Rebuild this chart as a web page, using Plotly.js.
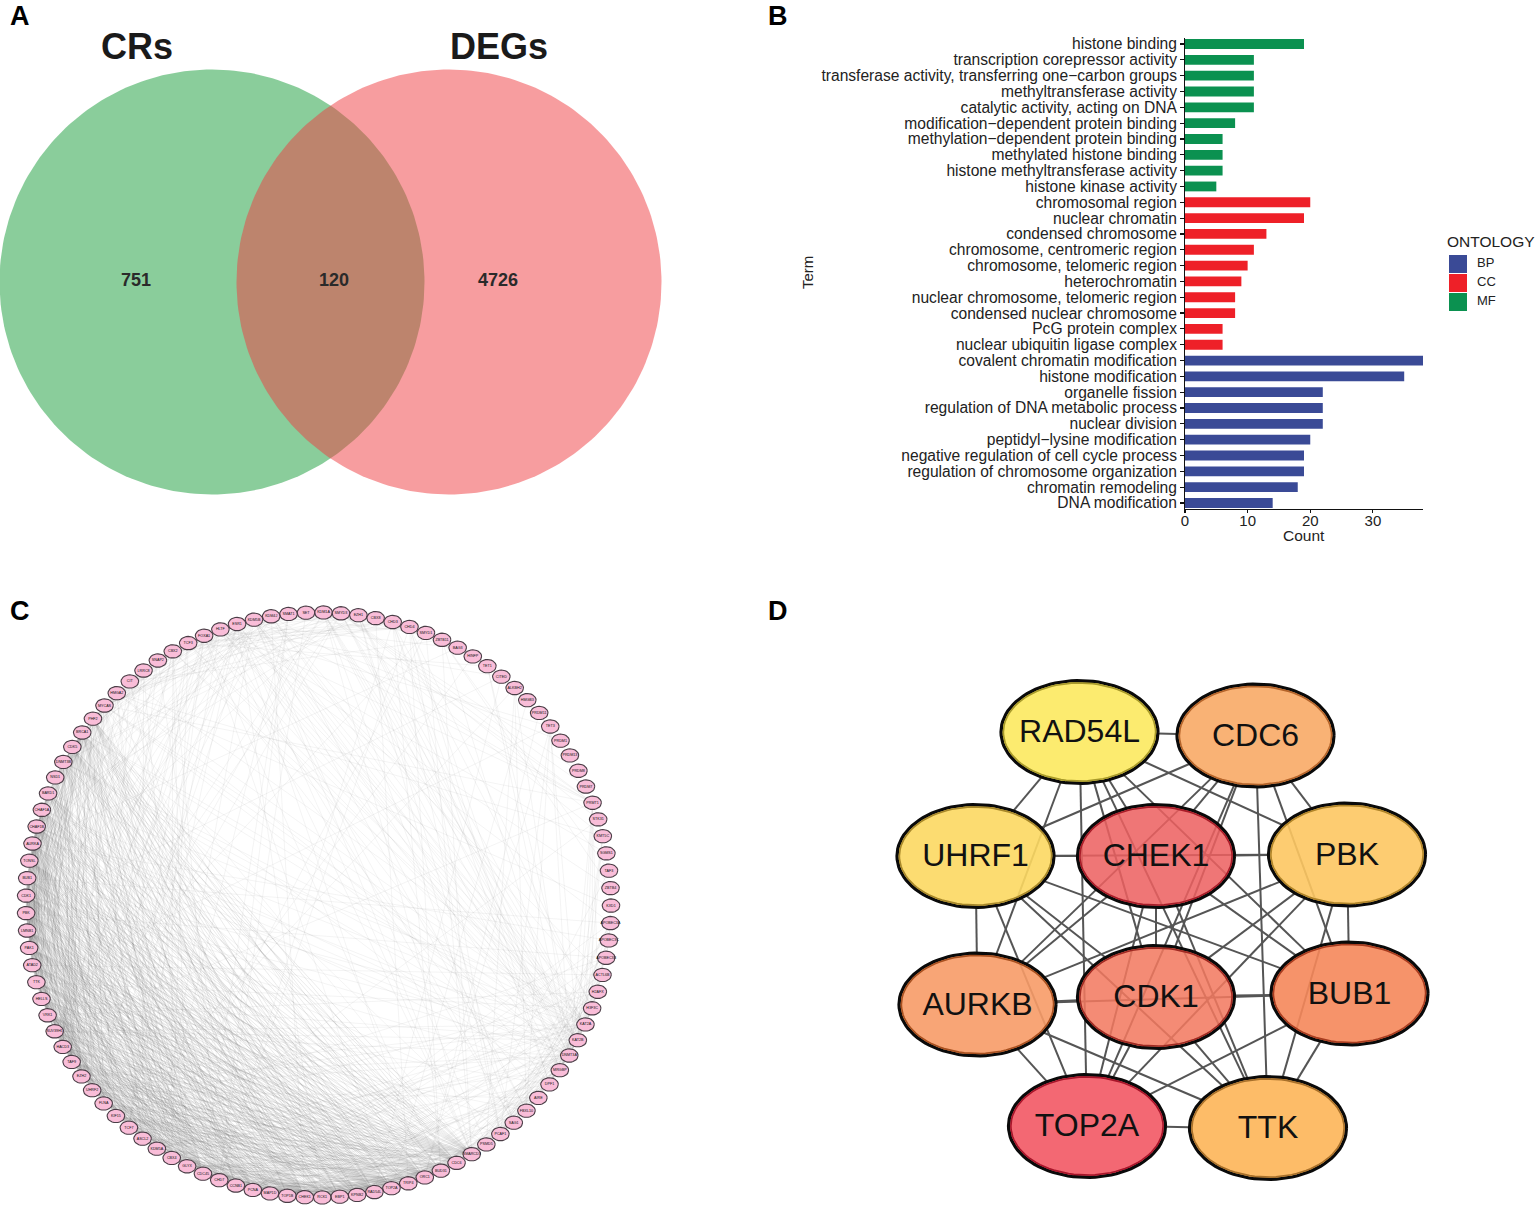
<!DOCTYPE html>
<html><head><meta charset="utf-8">
<script src="https://cdn.plot.ly/plotly-3.0.1.min.js"></script>
<style>html,body{margin:0;padding:0;background:#fff}#c{width:1535px;height:1210px}</style>
</head><body><div id="c"></div>
<script>
// ---------- Panel A: Venn ----------
const vennNames=['CRs','DEGs'];
const vennOnly=[751,4726];
const vennShared=120;

// ---------- Panel B: GO terms ----------
const mfTerms=['histone binding','transcription corepressor activity','transferase activity, transferring one−carbon groups','methyltransferase activity','catalytic activity, acting on DNA','modification−dependent protein binding','methylation−dependent protein binding','methylated histone binding','histone methyltransferase activity','histone kinase activity'];
const mfCounts=[19,11,11,11,11,8,6,6,6,5];
const ccTerms=['chromosomal region','nuclear chromatin','condensed chromosome','chromosome, centromeric region','chromosome, telomeric region','heterochromatin','nuclear chromosome, telomeric region','condensed nuclear chromosome','PcG protein complex','nuclear ubiquitin ligase complex'];
const ccCounts=[20,19,13,11,10,9,8,8,6,6];
const bpTerms=['covalent chromatin modification','histone modification','organelle fission','regulation of DNA metabolic process','nuclear division','peptidyl−lysine modification','negative regulation of cell cycle process','regulation of chromosome organization','chromatin remodeling','DNA modification'];
const bpCounts=[38,35,22,22,22,20,19,19,18,14];
const ontologyNames=['BP','CC','MF'];
const ontologyColors=['#3a4a96','#ee2028','#0b9150'];

// ---------- Panel C: PPI network (clockwise from the top) ----------
const ppiGenes=['SET','KDM1A','SMYD3','EZH1','CBX8','CHD3','CHD4','SMYD1','ZBTB11','BAG3','HINFP','TET1','CITED','ALKBH2','HMGB3','PRDM11','TET3','PRDM1','PRDM13','PRDM8','PRDM7','PRMT1','STK31','KMT5C','SGMS1','TAF3','ZBTB4','KXD1','APOBEC3A','APOBEC3C','APOBEC3B','ACTL6B','H2AFX','H3F3C','KAT2A','KAT2B','DNMT3A','MRGBP','DPF1','AIRE','FBXL10','SAG1','PCAF1','PSMD5','SMARCD3','CDC6','BUD31','ORC1','TRIP4','TOP2A','RAD54L','KPNB2','EBP1','RCK1','CHEK1','TOP1B','MAP1D','PCNA','CCNB1','CHD7','CDC45','GLYX','CBX4','KDM5A','ASCL2','TCF7','KIF15','FLNA','UHRF2','EZH2','TAF9','HACD3','SUV39H1','VRK1','HELLS','TTK','ATAD2','PAK1','LMNB1','PBK','CDK1','BUB1','TONSL','AURKA','CHAF1B','CHAF1A','BARD1','NSD1','DNMT3B','CDK5','BRCA1','PHF2','MYCAS','HMGA2','CIT','LRRC8','SNAP2','CBX2','TCF3','FOXA1','HLTF','ESR1','KDM5B','KDM4J','SMAT1'];
// adjacency by gene index, hub: partners
const ppiEdges=[
[80,[54,49,50,45,47,57,59,60,63,65,68,69,72,74,75,76,79,81,83,84,85,86,88,90,73,44,46,48,52,53,55,58,62,66,71,36,35,102,93,2,100]],
[81,[54,49,50,45,47,57,60,63,68,69,74,75,76,79,83,84,85,86,90,73,44,48,51,55,59,61,64,70,34,40,28]],
[79,[54,49,50,45,47,57,60,68,69,74,75,76,83,84,85,90,73,46,52,56,58,62,65,71,37,43,30,12]],
[83,[54,49,50,45,47,57,60,63,68,69,74,75,76,84,85,86,90,73,44,51,53,59,61,64,67,36,29,103,9]],
[75,[54,49,50,45,47,57,60,68,69,74,76,84,85,90,46,48,55,58,62,66,70,72,33,42,16]],
[74,[54,49,50,45,47,57,60,63,68,69,76,84,85,86,90,44,52,56,59,61,65,71,35,38,100]],
[76,[54,49,50,45,47,57,60,66,68,69,84,85,90,46,51,53,58,64,67,72,41,31,102]],
[72,[54,49,47,57,59,63,65,69,85,88,87,92,44,48,52,55,61,62,34,35,36,1,2,7,21,102,103,100]],
[69,[54,49,50,47,57,59,63,65,68,84,85,88,87,92,44,46,51,56,58,62,64,34,36,72,2,97,99,101]],
[68,[54,49,50,45,47,57,60,63,84,85,88,90,44,53,55,61,66,34,36,39,102,92]],
[66,[54,49,50,45,47,57,60,46,48,52,56,58,65,83,85,90,30,13]],
[65,[53,57,44,48,55,59,63,61,62,84,87,98,99,101,100,10,32,37]],
[63,[47,53,58,62,85,87,90,92,34,35,36,93,102,104,7,38,22]],
[59,[54,49,53,50,62,87,92,90,85,34,36,97,104,0,5,6,43]],
[57,[54,49,50,45,47,60,46,48,51,52,53,55,56,58,84,85,86,90,88,36,35,64,28,29,30,31]],
[54,[49,50,45,47,60,44,46,48,52,84,85,86,90,88,55,58,61,67,70,71,73,77,78,82,89,91,37,40,33,103]],
[49,[50,45,47,60,44,46,48,51,84,85,86,90,55,56,58,62,67,70,71,73,77,78,82,89,91,41,38,14,99]],
[50,[45,47,60,84,85,86,90,44,52,53,55,67,70,73,77,78,82,89,91,35,37,42,12]],
[47,[45,60,44,84,85,86,90,48,51,52,56,58,67,70,73,77,78,82,91,36,39,43,15,16]],
[45,[60,84,85,86,90,48,52,53,55,61,67,71,77,78,82,89,91,34,40,41,25]],
[60,[84,85,86,90,51,53,55,56,70,71,73,77,78,82,89,88,39,33,104]],
[84,[85,86,90,44,46,52,55,58,61,70,73,77,78,88,89,92,35,36,37,1]],
[85,[86,90,44,48,51,53,56,62,70,71,73,77,82,88,89,34,36,3,103]],
[90,[86,88,44,46,52,55,58,61,70,71,77,78,82,89,87,93,34,35,38,42,100,102]],
[86,[88,44,48,53,56,61,67,70,73,77,78,89,33,43]],
[88,[36,87,92,93,2,3,34,35,102,103,44,46,51,58,62,73,70,77,91]],
[73,[44,46,48,52,53,55,56,58,61,62,64,70,71,77,82,89,32,40]],
[44,[34,36,37,35,38,39,46,48,52,58,61,62,64,67,70,71,77,78,82,89,92,31,32,1,7,8,100,102]],
[46,[34,37,38,48,51,52,55,61,64,70,71,77,82,91,5,6,33,99]],
[48,[34,35,52,55,56,61,64,70,77,78,82,89,92,4,41,40]],
[51,[53,55,56,58,62,70,71,77,78,82,89,91,36,39]],
[52,[55,58,62,67,71,77,78,82,89,91,32,38,42]],
[53,[56,58,61,64,70,71,78,82,89,91,34,36,101]],
[55,[58,62,67,70,77,78,91,93,37,41]],
[56,[61,64,70,71,77,82,89,92,94,38,42]],
[58,[61,67,71,77,78,82,89,91,94,96,39]],
[61,[64,70,71,77,78,89,92,95,97]],
[62,[64,70,71,77,82,91,93,97,98,34,36]],
[64,[71,77,78,82,89,91,95,99]],
[67,[71,77,78,89,91,94,96,98,101]],
[70,[77,78,82,89,91,93,95,97,1,100]],
[71,[78,82,89,91,92,94,96,99]],
[77,[82,89,91,92,94,98,101,103]],
[78,[82,89,91,92,93,95,97,100]],
[82,[89,91,93,94,96,98,102]],
[89,[91,92,94,95,97,99]],
[91,[92,93,94,95,96,98,100,101]],
[92,[34,35,36,93,95,97,99,102,104,2,0,1,21]],
[93,[94,96,98,99,101,36,34,23,27,5]],
[94,[96,97,100,4,8,33]],
[100,[102,35,36,34,21,1,3,12,16,24,26,41,28,33]],
[102,[103,104,1,2,3,35,36,37,34,21,40,43,31,17]],
[103,[1,2,7,21,32,34,35,40]],
[101,[99,98,97,3,9,34,35,41,44,47]],
[99,[98,97,5,6,35,38]],
[98,[97,5,6,11,34,35,39]],
[97,[2,3,5,6,96,34,35]],
[1,[2,3,21,34,35,36,37,7,8,23,41]],
[2,[3,7,21,34,35,36,22,20,19]],
[3,[5,6,34,35,36,42,41,9]],
[5,[6,37,38,42,33,9,4]],
[6,[37,38,33,42,4]],
[8,[10,25,26,36]],
[11,[16,36,35,13]],
[13,[16,11,36,40,43]],
[16,[35,36,40,42,12]],
[21,[34,35,36,33,32,23]],
[23,[34,35,36]],
[28,[29,30,37,43,41,42]],
[29,[30,37,40,41]],
[30,[36,38,39,42]],
[31,[38,37,34,35]],
[32,[33,34,35,36,37]],
[33,[34,35,36,37]],
[34,[35,36,37,38,40,42,43]],
[35,[36,37,38,39,40,41]],
[36,[37,39,40,41,43]],
[37,[40,42,43]],
[40,[41,42,43]]
];

// ---------- Panel D: hub genes ----------
const hubGenes=['RAD54L','CDC6','UHRF1','CHEK1','PBK','AURKB','CDK1','BUB1','TOP2A','TTK'];
const hubFill=['rgba(252,234,100,0.93)','rgba(249,172,106,0.93)','rgba(252,216,98,0.9)','rgba(236,96,96,0.86)','rgba(253,199,98,0.9)','rgba(247,155,103,0.9)','rgba(242,120,94,0.86)','rgba(245,135,90,0.9)','rgba(242,96,108,0.95)','rgba(253,184,96,0.95)'];
const hubRing=['#a89a2a','#b5642a','#a8882a','#a81c28','#b08428','#a8501f','#a02a22','#a83c1f','#a8152a','#a8702a'];
const hubEdgeFrom=['RAD54L','RAD54L','RAD54L','RAD54L','RAD54L','RAD54L','RAD54L','RAD54L','RAD54L','CDC6','CDC6','CDC6','CDC6','CDC6','CDC6','CDC6','CDC6','UHRF1','UHRF1','UHRF1','UHRF1','UHRF1','UHRF1','UHRF1','CHEK1','CHEK1','CHEK1','CHEK1','CHEK1','CHEK1','PBK','PBK','PBK','PBK','PBK','AURKB','AURKB','AURKB','AURKB','CDK1','CDK1','CDK1','BUB1','BUB1','TOP2A'];
const hubEdgeTo=['CDC6','UHRF1','CHEK1','PBK','AURKB','CDK1','BUB1','TOP2A','TTK','UHRF1','CHEK1','PBK','AURKB','CDK1','BUB1','TOP2A','TTK','CHEK1','PBK','AURKB','CDK1','BUB1','TOP2A','TTK','PBK','AURKB','CDK1','BUB1','TOP2A','TTK','AURKB','CDK1','BUB1','TOP2A','TTK','CDK1','BUB1','TOP2A','TTK','BUB1','TOP2A','TTK','TOP2A','TTK','TTK'];

// ---------- Helpers and placement (page-pixel overlay axes) ----------
const W=1535,H=1210;
const vennGeom={c:[[212,282],[449,282]],r:212.5};
const ppiGeom={cx:318.5,cy:905,r:292.5,rx:8.8,ry:6.7,start:-2.45};
const hubCentre={RAD54L:[1079.5,732],CDC6:[1255.5,735.5],UHRF1:[975.5,856],CHEK1:[1156,856],PBK:[1347,854.5],AURKB:[977.5,1004.5],CDK1:[1156,997],BUB1:[1349.5,993.5],TOP2A:[1087,1126],TTK:[1268,1128]};
const hubRx=78.5,hubRy=51.5;
function ellipse(cx,cy,rx,ry,n){const xs=[],ys=[];for(let i=0;i<=n;i++){const a=i/n*2*Math.PI;xs.push(cx+rx*Math.cos(a));ys.push(cy+ry*Math.sin(a));}return [xs,ys];}
const ov={xaxis:'x2',yaxis:'y2',hoverinfo:'skip',showlegend:false};
const traces=[];

// B bars
const cats=[...mfTerms,...ccTerms,...bpTerms];
[[bpTerms,bpCounts],[ccTerms,ccCounts],[mfTerms,mfCounts]].forEach((s,i)=>{
  traces.push({type:'bar',orientation:'h',name:ontologyNames[i],y:s[0],x:s[1],marker:{color:ontologyColors[i]},width:0.62,showlegend:false,xaxis:'x',yaxis:'y'});
});

// A venn
const vennCol=['rgba(21,155,55,0.5)','rgba(239,59,63,0.5)'];
vennGeom.c.forEach((c,i)=>{const e=ellipse(c[0],c[1],vennGeom.r,vennGeom.r,240);
  traces.push({...ov,x:e[0],y:e[1],mode:'lines',fill:'toself',fillcolor:vennCol[i],line:{width:0}});});

// C network: the right and top of the ring carries much fainter edges
const N=ppiGenes.length;
const pos=ppiGenes.map((g,i)=>{const a=(ppiGeom.start+i*360/N)*Math.PI/180;return [ppiGeom.cx+ppiGeom.r*Math.sin(a),ppiGeom.cy-ppiGeom.r*Math.cos(a)];});
const ex=[],ey=[],fx=[],fy=[];
ppiEdges.forEach(([h,ps])=>ps.forEach(p=>{
  const faint=(h<44||p<44||h>=92||p>=92);
  (faint?fx:ex).push(pos[h][0],pos[p][0],null);(faint?fy:ey).push(pos[h][1],pos[p][1],null);}));
traces.push({...ov,x:fx,y:fy,mode:'lines',line:{color:'rgba(110,110,110,0.10)',width:0.8}});
traces.push({...ov,x:ex,y:ey,mode:'lines',line:{color:'rgba(95,95,95,0.18)',width:0.7}});
const nx=[],ny=[];
pos.forEach(p=>{const e=ellipse(p[0],p[1],ppiGeom.rx,ppiGeom.ry,28);nx.push(...e[0],null);ny.push(...e[1],null);});
traces.push({...ov,x:nx,y:ny,mode:'lines',fill:'toself',fillcolor:'#f9bdd8',line:{color:'#4a3d46',width:1.1}});
traces.push({...ov,x:pos.map(p=>p[0]),y:pos.map(p=>p[1]),text:ppiGenes,mode:'text',textposition:'middle center',textfont:{family:'Liberation Sans',size:3.7,color:'#111'}});

// D hub network
function clip(a,b){const dx=b[0]-a[0],dy=b[1]-a[1];const t=1/Math.sqrt((dx/hubRx)**2+(dy/hubRy)**2);return [a[0]+dx*t,a[1]+dy*t];}
const hx=[],hy=[];
hubEdgeFrom.forEach((f,i)=>{const a=hubCentre[f],b=hubCentre[hubEdgeTo[i]];const p=clip(a,b),q=clip(b,a);hx.push(p[0],q[0],null);hy.push(p[1],q[1],null);});
traces.push({...ov,x:hx,y:hy,mode:'lines',line:{color:'#555',width:2}});
hubGenes.forEach((g,i)=>{const c=hubCentre[g];
  const e=ellipse(c[0],c[1],hubRx,hubRy,90);
  traces.push({...ov,x:e[0],y:e[1],mode:'lines',fill:'toself',fillcolor:hubFill[i],line:{color:'#0a0a0a',width:3.2}});
  const r=ellipse(c[0],c[1],hubRx-2.4,hubRy-2.4,90);
  traces.push({...ov,x:r[0],y:r[1],mode:'lines',line:{color:hubRing[i],width:1.6}});
});
traces.push({...ov,x:hubGenes.map(g=>hubCentre[g][0]),y:hubGenes.map(g=>hubCentre[g][1]+2),text:hubGenes,mode:'text',textposition:'middle center',textfont:{family:'Liberation Sans',size:32,color:'#111'}});

// B legend
const legendY=[264,283,302];
traces.push({...ov,x:legendY.map(()=>1458),y:legendY,mode:'markers',marker:{symbol:'square',size:18,color:ontologyColors,line:{width:0}}});
traces.push({...ov,x:legendY.map(()=>1477),y:legendY,mode:'text',text:ontologyNames,textposition:'middle right',textfont:{family:'Liberation Sans',size:13,color:'#222'}});

function label(x,y,t,size,bold,color){return {xref:'x2',yref:'y2',x,y,text:bold?'<b>'+t+'</b>':t,showarrow:false,xanchor:'center',yanchor:'middle',font:{family:'Liberation Sans',size,color}};}
const annotations=[
 label(20,16,'A',27,true,'#000'),label(778,16,'B',27,true,'#000'),label(20,611,'C',27,true,'#000'),label(778,611,'D',27,true,'#000'),
 label(137,46,vennNames[0],36,true,'#1a1a1a'),label(499,46,vennNames[1],36,true,'#1a1a1a'),
 label(136,280,String(vennOnly[0]),18,true,'#2a2a2a'),label(334,280,String(vennShared),18,true,'#2a2a2a'),label(498,280,String(vennOnly[1]),18,true,'#2a2a2a'),
 label(1491,241,'ONTOLOGY',15.5,false,'#222'),
 label(1304,535,'Count',15.5,false,'#222'),
 {xref:'x2',yref:'y2',x:807,y:273,text:'Term',showarrow:false,textangle:-90,xanchor:'center',yanchor:'middle',font:{family:'Liberation Sans',size:15,color:'#222'}}
];

const layout={
 width:W,height:H,margin:{l:0,r:0,t:0,b:0,pad:0},paper_bgcolor:'#fff',plot_bgcolor:'rgba(0,0,0,0)',showlegend:false,bargap:0.38,barmode:'overlay',
 xaxis:{domain:[1185/W,1423/W],range:[0,38],anchor:'y',tickvals:[0,10,20,30],ticks:'outside',ticklen:3,tickwidth:1.2,tickcolor:'#111',showline:true,linecolor:'#111',linewidth:1.4,showgrid:false,zeroline:false,ticklabelstandoff:-5,
   tickfont:{family:'Liberation Sans',size:15,color:'#222'}},
 yaxis:{domain:[1-509/H,1-38/H],anchor:'x',type:'category',categoryorder:'array',categoryarray:[...cats].reverse(),range:[-0.38,29.38],ticks:'outside',ticklen:3.5,tickwidth:1.2,tickcolor:'#111',showline:true,linecolor:'#111',linewidth:1.4,showgrid:false,zeroline:false,
   tickfont:{family:'Liberation Sans',size:15.6,color:'#222'},tickmode:'array',tickvals:cats,ticktext:cats},
 xaxis2:{domain:[0,1],range:[0,W],visible:false,anchor:'y2',fixedrange:true},
 yaxis2:{domain:[0,1],range:[H,0],visible:false,anchor:'x2',fixedrange:true},
 annotations
};
Plotly.newPlot('c',traces,layout,{displayModeBar:false,staticPlot:true});
</script></body></html>
